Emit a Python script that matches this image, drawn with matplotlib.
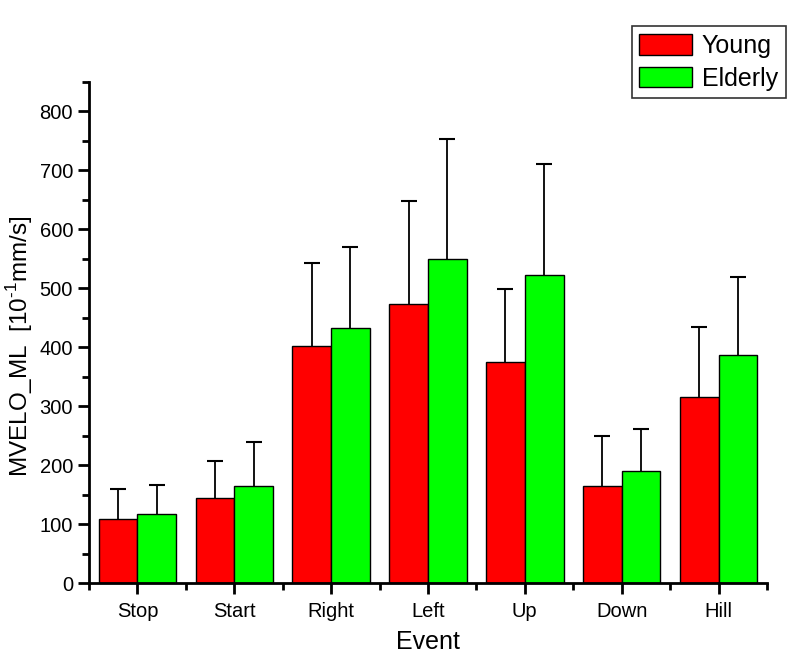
import numpy as np
import matplotlib.pyplot as plt
from matplotlib.ticker import MultipleLocator
from matplotlib.patches import Patch

plt.rcParams['font.family'] = ['Liberation Sans', 'DejaVu Sans']
plt.rcParams['mathtext.fontset'] = 'custom'
plt.rcParams['mathtext.rm'] = 'Liberation Sans'

events = ['Stop', 'Start', 'Right', 'Left', 'Up', 'Down', 'Hill']
young = [109, 144, 402, 474, 375, 165, 316]
young_top = [160, 207, 543, 648, 499, 250, 434]
elderly = [117, 165, 433, 550, 523, 190, 387]
elderly_top = [166, 239, 570, 754, 710, 261, 519]

fig = plt.figure(figsize=(8.09, 6.61), dpi=100)
ax = fig.add_axes([0.110, 0.118, 0.838, 0.758])

x = np.arange(len(events))
w = 0.4
for off, vals, tops, col in [(-w/2, young, young_top, '#ff0000'),
                             (w/2, elderly, elderly_top, '#00ff00')]:
    xs = x + off
    # error bars only upward, cap only at the top
    ax.vlines(xs, vals, tops, colors='black', linewidth=1.3, zorder=1)
    ax.plot(xs, tops, linestyle='none', marker='_', markersize=11,
            markeredgewidth=1.5, color='black', zorder=1)
    ax.bar(xs, vals, w, color=col, edgecolor='black', linewidth=1, zorder=2)

ax.set_xlim(-0.5, len(events) - 0.5)
ax.set_ylim(0, 850)
ax.set_xticks(x)
ax.set_xticklabels(events)
ax.xaxis.set_minor_locator(MultipleLocator(1, offset=0.5))
ax.yaxis.set_major_locator(MultipleLocator(100))
ax.yaxis.set_minor_locator(MultipleLocator(50))

for s in ['top', 'right']:
    ax.spines[s].set_visible(False)
for s in ['left', 'bottom']:
    ax.spines[s].set_linewidth(2)

ax.tick_params(which='major', direction='out', length=8, width=2, labelsize=14.5)
ax.tick_params(axis='x', which='major', pad=6)
ax.tick_params(which='minor', direction='out', length=5, width=2)

ax.set_xlabel('Event', fontsize=18, labelpad=6)
ax.set_ylabel(r'MVELO_ML  [10$^{\text{-1}}$mm/s]', fontsize=17.5)
ax.yaxis.set_label_coords(-0.080, 0.473)

handles = [Patch(facecolor='#ff0000', edgecolor='black', label='Young'),
           Patch(facecolor='#00ff00', edgecolor='black', label='Elderly')]
leg = fig.legend(handles=handles, loc='upper right', bbox_to_anchor=(0.971, 0.960),
                 fontsize=18, frameon=True, fancybox=False, handlelength=2.1,
                 handleheight=0.9, borderpad=0.3, labelspacing=0.35, handletextpad=0.4,
                 borderaxespad=0.0)
leg.get_frame().set_edgecolor('black')
leg.get_frame().set_linewidth(1.2)

fig.savefig('out.png', dpi=100)
